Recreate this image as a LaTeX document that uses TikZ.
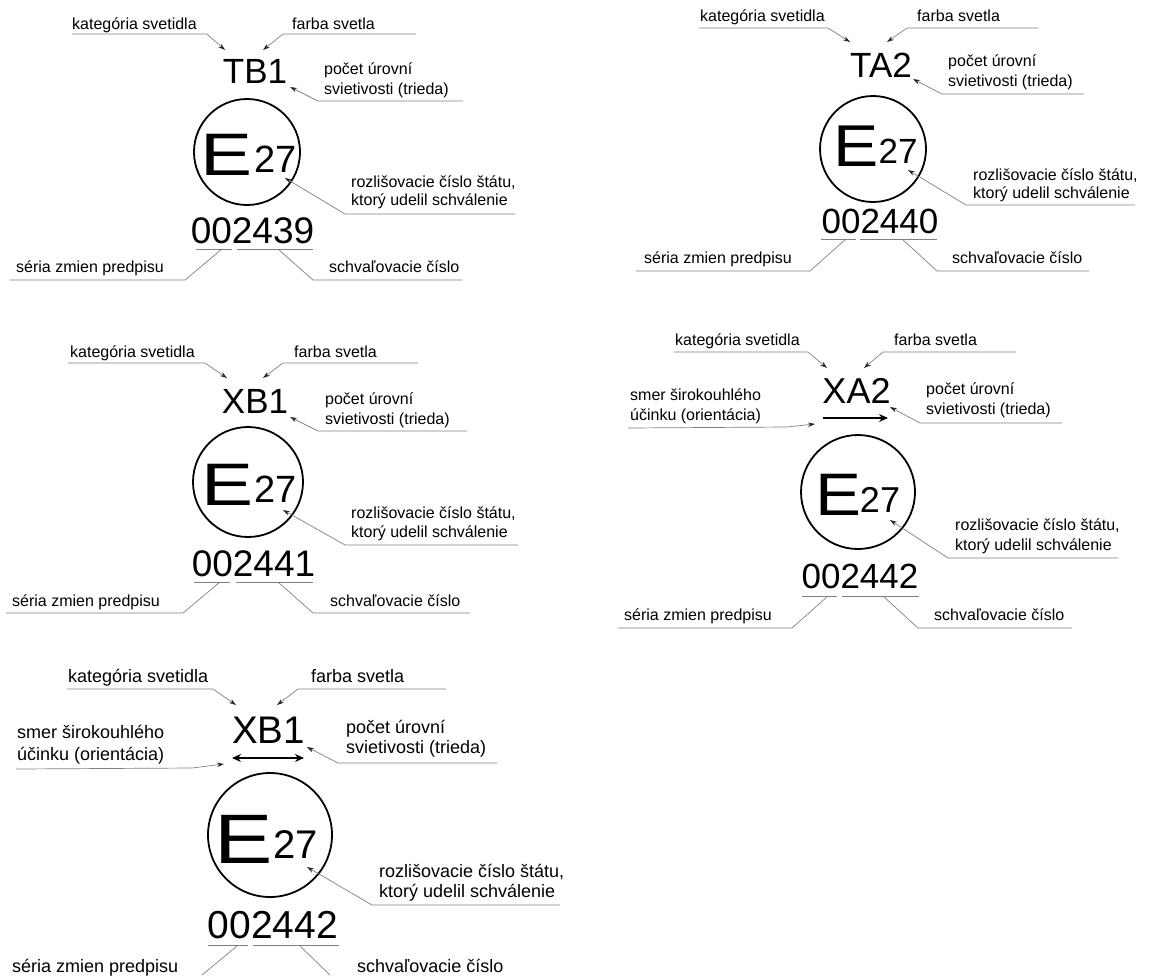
\documentclass[tikz,border=0pt]{standalone}
\usepackage{fontspec}
\setmainfont{Liberation Sans}
\usepackage{graphicx}
\usetikzlibrary{arrows.meta}

\begin{document}
\begin{tikzpicture}[x=1pt,y=-1pt,
  lbl/.style={inner sep=0pt,anchor=base west,font=\fontsize{16}{19}\selectfont},
  lblbig/.style={lbl,font=\fontsize{18}{21}\selectfont},
  sign/.style={inner sep=0pt,anchor=base,font=\fontsize{#1}{#1}\selectfont},
  ring/.style={circle,draw,line width=1.8pt,inner sep=0pt,minimum size=#1},
  leader/.style={draw=black!50,line width=0.7pt,-{Stealth[length=7pt,width=4.5pt,black!85]}},
  guide/.style={draw=black!50,line width=0.7pt},
  orient/.style={line width=2.2pt,-{Stealth[length=9pt,width=8pt]}}]
 % \draw[thin,gray!40] (0,0) grid[step=50] (1155,975);
  \useasboundingbox (0,0) rectangle (1155,975);

  % TB1
  \node[lbl] (a-cat) at (72,29) {kategória svetidla};
  \node[lbl] (a-col) at (292,29) {farba svetla};
  \node[sign=35] (a-code) at (255,83) {TB1};
  \node[lbl] (a-cls1) at (324,74) {počet úrovní};
  \node[lbl] (a-cls2) at (324,94) {svietivosti (trieda)};
  \node[ring=106] (a-ring) at (247,152) {};
  \node[sign=60] (a-e) at (227,175) {\scalebox{1.3}[1]{E}};
  \node[sign=38] (a-nr) at (276,172) {27};
  \node[lbl] (a-cty1) at (351,187) {rozlišovacie číslo štátu,};
  \node[lbl] (a-cty2) at (351,205) {ktorý udelil schválenie};
  \node[sign=37] (a-num) at (252.5,243) {002439};
  \node[lbl] (a-ser) at (16,272) {séria zmien predpisu};
  \node[lbl] (a-apr) at (329,272) {schvaľovacie číslo};
  \coordinate (a-t1) at (225,50); \coordinate (a-t2) at (263,50);
  \coordinate (a-t3) at (290,87); \coordinate (a-t4) at (285,178);
  \coordinate (a-u1) at (222,249); \coordinate (a-u2) at (278,249);
  \draw[leader] ([shift={(0,5)}]a-cat.base west) -- ++(135,0) -- (a-t1);
  \draw[leader] ([shift={(124,5)}]a-col.base west) -- ++(-133,0) -- (a-t2);
  \draw[leader] ([shift={(139,7)}]a-cls2.base west) -- ++(-145,0) -- (a-t3);
  \draw[leader] ([shift={(164,9)}]a-cty2.base west) -- ++(-170,0) -- (a-t4);
  \draw[guide] (196,249) -- (232,249) (237,249) -- (313,249);
  \draw[guide] (a-u1) -- ++(-37,31) -- ([shift={(-6,8)}]a-ser.base west);
  \draw[guide] (a-u2) -- ++(35,31) -- ([shift={(133,8)}]a-apr.base west);

  % TA2
  \node[lbl] (b-cat) at (700,21) {kategória svetidla};
  \node[lbl] (b-col) at (917,21) {farba svetla};
  \node[sign=35] (b-code) at (881,77) {TA2};
  \node[lbl] (b-cls1) at (948,66) {počet úrovní};
  \node[lbl] (b-cls2) at (948,86) {svietivosti (trieda)};
  \node[ring=106] (b-ring) at (873,149) {};
  \node[sign=59] (b-e) at (856,166) {\scalebox{1.15}[1]{E}};
  \node[sign=35] (b-nr) at (898,163) {27};
  \node[lbl] (b-cty1) at (973,180) {rozlišovacie číslo štátu,};
  \node[lbl] (b-cty2) at (973,198) {ktorý udelil schválenie};
  \node[sign=35] (b-num) at (880,233) {002440};
  \node[lbl] (b-ser) at (644,263) {séria zmien predpisu};
  \node[lbl] (b-apr) at (952,263) {schvaľovacie číslo};
  \coordinate (b-t1) at (850,42); \coordinate (b-t2) at (887,42);
  \coordinate (b-t3) at (913,79); \coordinate (b-t4) at (908,170);
  \coordinate (b-u1) at (846,239); \coordinate (b-u2) at (902,239);
  \draw[leader] ([shift={(-1,7)}]b-cat.base west) -- ++(129,0) -- (b-t1);
  \draw[leader] ([shift={(121,7)}]b-col.base west) -- ++(-131,0) -- (b-t2);
  \draw[leader] ([shift={(136,8)}]b-cls2.base west) -- ++(-142,0) -- (b-t3);
  \draw[leader] ([shift={(162,7)}]b-cty2.base west) -- ++(-169,0) -- (b-t4);
  \draw[guide] (821,239) -- (856,239) (860,239) -- (937,239);
  \draw[guide] (b-u1) -- ++(-36,32) -- ([shift={(-8,8)}]b-ser.base west);
  \draw[guide] (b-u2) -- ++(35,32) -- ([shift={(137,8)}]b-apr.base west);

  % XB1
  \node[lbl] (c-cat) at (70,357) {kategória svetidla};
  \node[lbl] (c-col) at (294,357) {farba svetla};
  \node[sign=35] (c-code) at (255,413) {XB1};
  \node[lbl] (c-cls1) at (325,404) {počet úrovní};
  \node[lbl] (c-cls2) at (325,424) {svietivosti (trieda)};
  \node[ring=110] (c-ring) at (248,482) {};
  \node[sign=60] (c-e) at (228,505) {\scalebox{1.3}[1]{E}};
  \node[sign=38] (c-nr) at (276,502) {27};
  \node[lbl] (c-cty1) at (351,518) {rozlišovacie číslo štátu,};
  \node[lbl] (c-cty2) at (351,537) {ktorý udelil schválenie};
  \node[sign=37] (c-num) at (253.5,576) {002441};
  \node[lbl] (c-ser) at (12,606) {séria zmien predpisu};
  \node[lbl] (c-apr) at (330,606) {schvaľovacie číslo};
  \coordinate (c-t1) at (227,378); \coordinate (c-t2) at (263,378);
  \coordinate (c-t3) at (290,417); \coordinate (c-t4) at (283,510);
  \coordinate (c-u1) at (220,582); \coordinate (c-u2) at (278,582);
  \draw[leader] ([shift={(-2,6)}]c-cat.base west) -- ++(137,0) -- (c-t1);
  \draw[leader] ([shift={(124,6)}]c-col.base west) -- ++(-135,0) -- (c-t2);
  \draw[leader] ([shift={(142,7)}]c-cls2.base west) -- ++(-149,0) -- (c-t3);
  \draw[leader] ([shift={(167,8)}]c-cty2.base west) -- ++(-173,0) -- (c-t4);
  \draw[guide] (194,582) -- (230,582) (236,582) -- (313,582);
  \draw[guide] (c-u1) -- ++(-37,31) -- ([shift={(-6,7)}]c-ser.base west);
  \draw[guide] (c-u2) -- ++(35,31) -- ([shift={(140,7)}]c-apr.base west);

  % XA2
  \node[lbl] (d-cat) at (675,345) {kategória svetidla};
  \node[lbl] (d-col) at (894,345) {farba svetla};
  \node[lbl] (d-dir1) at (630,400) {smer širokouhlého};
  \node[lbl] (d-dir2) at (630,420) {účinku (orientácia)};
  \node[sign=36] (d-code) at (856.5,403) {XA2};
  \node[lbl] (d-cls1) at (926,394) {počet úrovní};
  \node[lbl] (d-cls2) at (926,414) {svietivosti (trieda)};
  \node[ring=114] (d-ring) at (858,492) {};
  \node[sign=60] (d-e) at (838.5,515) {\scalebox{1.15}[1]{E}};
  \node[sign=36] (d-nr) at (880,512) {27};
  \node[lbl] (d-cty1) at (955,530) {rozlišovacie číslo štátu,};
  \node[lbl] (d-cty2) at (955,550) {ktorý udelil schválenie};
  \node[sign=35] (d-num) at (860,588) {002442};
  \node[lbl] (d-ser) at (624,620) {séria zmien predpisu};
  \node[lbl] (d-apr) at (934,620) {schvaľovacie číslo};
  \coordinate (d-t1) at (827,368); \coordinate (d-t2) at (864,368);
  \coordinate (d-t3) at (890,407); \coordinate (d-t4) at (890,520);
  \coordinate (d-t5) at (815,424);
  \coordinate (d-u1) at (828,596); \coordinate (d-u2) at (883,596);
  \draw[orient] (823,418) -- (888,418);
  \draw[leader] ([shift={(-1,7)}]d-cat.base west) -- ++(134,0) -- (d-t1);
  \draw[leader] ([shift={(122,7)}]d-col.base west) -- ++(-133,0) -- (d-t2);
  \draw[leader] ([shift={(-2,8)}]d-dir2.base west) -- ++(159,-1) -- (d-t5);
  \draw[leader] ([shift={(136,9)}]d-cls2.base west) -- ++(-142,0) -- (d-t3);
  \draw[leader] ([shift={(163,8)}]d-cty2.base west) -- ++(-170,0) -- (d-t4);
  \draw[guide] (802,596) -- (837,596) (842,596) -- (919,596);
  \draw[guide] (d-u1) -- ++(-36,32) -- ([shift={(-6,8)}]d-ser.base west);
  \draw[guide] (d-u2) -- ++(35,32) -- ([shift={(138,8)}]d-apr.base west);

  % XB1 with both directions
  \node[lblbig] (e-cat) at (68,682) {kategória svetidla};
  \node[lblbig] (e-col) at (311,682) {farba svetla};
  \node[lblbig] (e-dir1) at (17,738) {smer širokouhlého};
  \node[lblbig] (e-dir2) at (17,760) {účinku (orientácia)};
  \node[sign=38.5] (e-code) at (268.5,743) {XB1};
  \node[lblbig] (e-cls1) at (346,733) {počet úrovní};
  \node[lblbig] (e-cls2) at (346,753) {svietivosti (trieda)};
  \node[ring=124] (e-ring) at (270,835) {};
  \node[sign=70] (e-e) at (243.5,863) {\scalebox{1.25}[1]{E}};
  \node[sign=40] (e-nr) at (296,858) {27};
  \node[lblbig] (e-cty1) at (379,877) {rozlišovacie číslo štátu,};
  \node[lblbig] (e-cty2) at (379,897) {ktorý udelil schválenie};
  \node[sign=39] (e-num) at (273,938) {002442};
  \node[lblbig] (e-ser) at (12,972) {séria zmien predpisu};
  \node[lblbig] (e-apr) at (357,972) {schvaľovacie číslo};
  \coordinate (e-t1) at (236,705); \coordinate (e-t2) at (277,705);
  \coordinate (e-t3) at (307,747); \coordinate (e-t4) at (307,867);
  \coordinate (e-t5) at (224,764);
  \coordinate (e-u1) at (237,946); \coordinate (e-u2) at (300,946);
  \draw[line width=2.2pt,{Stealth[length=9pt,width=8pt]}-{Stealth[length=9pt,width=8pt]}] (232,758) -- (304,758);
  \draw[leader] ([shift={(-1,7)}]e-cat.base west) -- ++(146,0) -- (e-t1);
  \draw[leader] ([shift={(135,7)}]e-col.base west) -- ++(-148,0) -- (e-t2);
  \draw[leader] ([shift={(-1,9)}]e-dir2.base west) -- ++(176,-1) -- (e-t5);
  \draw[leader] ([shift={(151,10)}]e-cls2.base west) -- ++(-159,0) -- (e-t3);
  \draw[leader] ([shift={(181,8)}]e-cty2.base west) -- ++(-188,0) -- (e-t4);
  \draw[guide] (208,945) -- (248,945) (253,945) -- (339,945);
  \draw[guide] (e-u1) -- ++(-35,29);
  \draw[guide] (e-u2) -- ++(30,29);
\end{tikzpicture}
\end{document}
